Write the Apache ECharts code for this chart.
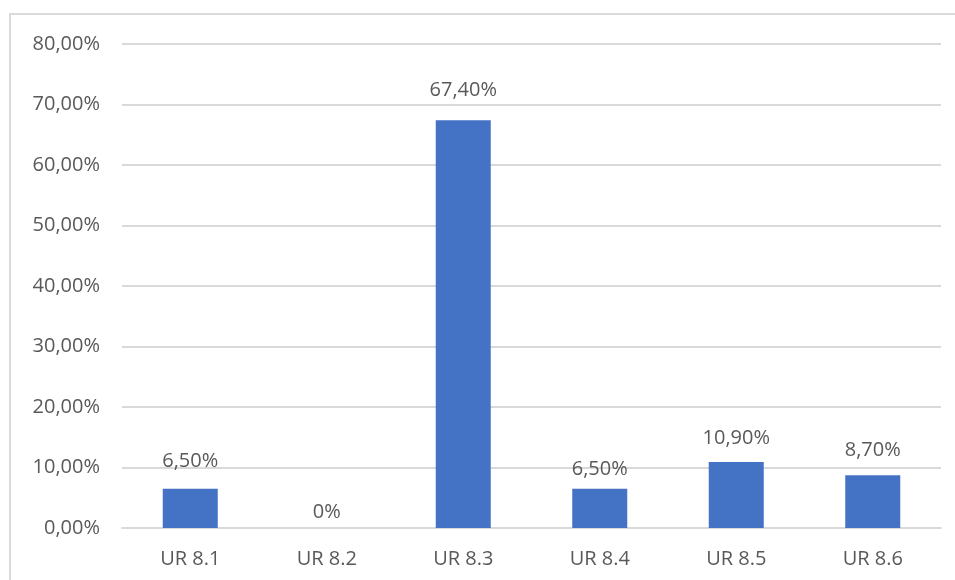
<!DOCTYPE html>
<html>
<head>
<meta charset="utf-8">
<script src="https://cdn.jsdelivr.net/npm/echarts@6/dist/echarts.min.js"></script>
<style>
  html, body { margin: 0; padding: 0; background: #fff; overflow: hidden; }
  #frame { position: absolute; left: 9px; top: 13px; width: 1000px; height: 700px; border: 2px solid #d9d9d9; }
  #chart { position: absolute; left: 0; top: 0; width: 955px; height: 580px; }
</style>
</head>
<body>
<div id="frame"></div>
<div id="chart"></div>
<script>
// Share of responses per UR item
const categories = ['UR 8.1', 'UR 8.2', 'UR 8.3', 'UR 8.4', 'UR 8.5', 'UR 8.6'];
const values = [6.5, 0, 67.4, 6.5, 10.9, 8.7];
const yTicks = [0, 10, 20, 30, 40, 50, 60, 70, 80];

// Gap between each bar top and its value label (px)
const labelGap = [17, 6, 20, 9, 14, 15];

const fmtPct = v => v.toFixed(2).replace('.', ',') + '%';
const textColor = '#595959';
const font = '"Open Sans", "Noto Sans", sans-serif';
const fontSize = 20;

const chart = echarts.init(document.getElementById('chart'));
chart.setOption({
  animation: false,
  grid: { left: 122, right: 14, top: 44, bottom: 52, containLabel: false },
  xAxis: {
    type: 'category',
    data: categories,
    axisLine: { show: true, lineStyle: { color: '#d9d9d9', width: 2 } },
    axisTick: { show: false },
    axisLabel: { color: textColor, fontFamily: font, fontSize: fontSize, margin: 21 }
  },
  yAxis: {
    type: 'value',
    min: yTicks[0],
    max: yTicks[yTicks.length - 1],
    interval: 10,
    axisLine: { show: false },
    axisTick: { show: false },
    splitLine: { lineStyle: { color: '#d9d9d9', width: 2 } },
    axisLabel: { color: textColor, fontFamily: font, fontSize: fontSize, margin: 22, formatter: fmtPct }
  },
  series: [{
    type: 'bar',
    data: values.map((v, i) => ({ value: v, label: { distance: labelGap[i] } })),
    barWidth: 55,
    itemStyle: { color: '#4472C4' },
    label: {
      show: true,
      position: 'top',
      color: textColor,
      fontFamily: font,
      fontSize: fontSize,
      formatter: p => p.value === 0 ? '0%' : fmtPct(p.value)
    }
  }]
});
</script>
</body>
</html>
